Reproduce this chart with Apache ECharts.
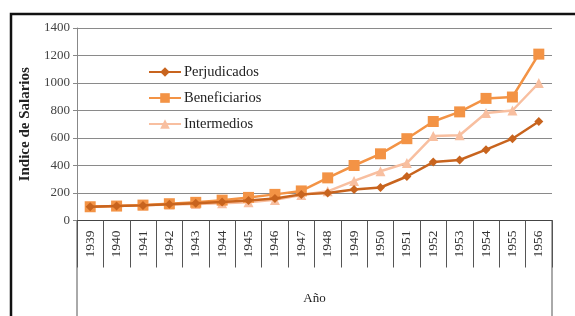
<!DOCTYPE html>
<html>
<head>
<meta charset="utf-8">
<script src="https://cdn.jsdelivr.net/npm/echarts@6/dist/echarts.min.js"></script>
<style>
  html, body { margin: 0; padding: 0; background: #fff; }
  #chart { width: 575px; height: 316px; }
</style>
</head>
<body>
<div id="chart"></div>
<script>
// years on the category axis
var years = ['1939','1940','1941','1942','1943','1944','1945','1946','1947',
             '1948','1949','1950','1951','1952','1953','1954','1955','1956'];
var yTicks = [0, 200, 400, 600, 800, 1000, 1200, 1400];

var perjudicados  = [100, 105, 110, 118, 125, 135, 145, 160, 190, 200, 225, 240, 320, 425, 440, 515, 595, 720];
var beneficiarios = [100, 105, 112, 122, 132, 148, 168, 190, 215, 310, 400, 485, 595, 720, 790, 888, 898, 1210];
var intermedios   = [100, 105, 110, 116, 120, 125, 132, 150, 185, 212, 288, 358, 418, 615, 620, 782, 800, 1000];

var serif = '"Liberation Serif", "DejaVu Serif", serif';
var chart = echarts.init(document.getElementById('chart'));

var option = {
  animation: false,
  backgroundColor: '#fff',
  textStyle: { fontFamily: serif },
  grid: { left: 77, right: 23, top: 28, bottom: 95.5 },
  legend: {
    orient: 'vertical',
    left: 143,
    top: 59.5,
    itemGap: 11,
    itemWidth: 32,
    itemHeight: 12,
    textStyle: { fontFamily: serif, fontSize: 14.5, color: '#222', padding: [0, 0, 0, -2] },
    data: ['Perjudicados', 'Beneficiarios', 'Intermedios']
  },
  xAxis: {
    type: 'category',
    data: years,
    boundaryGap: true,
    name: 'Año',
    nameLocation: 'middle',
    nameGap: 72,
    nameTextStyle: { fontFamily: serif, fontSize: 13, color: '#222' },
    axisLine: { lineStyle: { color: '#444', width: 1.2 } },
    axisTick: { show: true, length: 47, interval: 0, lineStyle: { color: '#555' } },
    axisLabel: { rotate: 90, interval: 0, margin: 10, fontFamily: serif, fontSize: 13.5, color: '#333' }
  },
  yAxis: {
    type: 'value',
    min: 0,
    max: 1400,
    interval: 200,
    name: 'Indice de Salarios',
    nameLocation: 'middle',
    nameGap: 41,
    nameTextStyle: { fontFamily: serif, fontSize: 15, fontWeight: 'bold', color: '#222' },
    axisLine: { show: true, lineStyle: { color: '#888' } },
    axisTick: { show: true, length: 4, lineStyle: { color: '#888' } },
    axisLabel: {
      margin: 7, fontFamily: serif, fontSize: 13, color: '#444',
      formatter: function (v) { return yTicks.indexOf(v) >= 0 ? String(v) : ''; }
    },
    splitLine: { show: true, lineStyle: { color: '#8a8a8a', width: 1 } }
  },
  series: [
    {
      name: 'Perjudicados', type: 'line', data: perjudicados,
      symbol: 'diamond', symbolSize: 9,
      lineStyle: { color: '#C8641E', width: 2.5 },
      itemStyle: { color: '#C8641E' }, z: 4
    },
    {
      name: 'Beneficiarios', type: 'line', data: beneficiarios,
      symbol: 'rect', symbolSize: 11,
      lineStyle: { color: '#F39345', width: 2.5 },
      itemStyle: { color: '#F39345' }, z: 3
    },
    {
      name: 'Intermedios', type: 'line', data: intermedios,
      symbol: 'triangle', symbolSize: 10,
      lineStyle: { color: '#F8BFA0', width: 2.5 },
      itemStyle: { color: '#F8BFA0' }, z: 2
    }
  ],
  graphic: [
    // outer black frame of the picture
    { type: 'rect', shape: { x: 11, y: 14, width: 600, height: 400 },
      style: { fill: 'none', stroke: '#111', lineWidth: 2.5 }, silent: true },
    // outer edges of the category box
    { type: 'line', shape: { x1: 77, y1: 220, x2: 77, y2: 316 },
      style: { stroke: '#555', lineWidth: 1 }, silent: true },
    { type: 'line', shape: { x1: 552, y1: 220, x2: 552, y2: 316 },
      style: { stroke: '#555', lineWidth: 1 }, silent: true }
  ]
};

chart.setOption(option);
</script>
</body>
</html>
